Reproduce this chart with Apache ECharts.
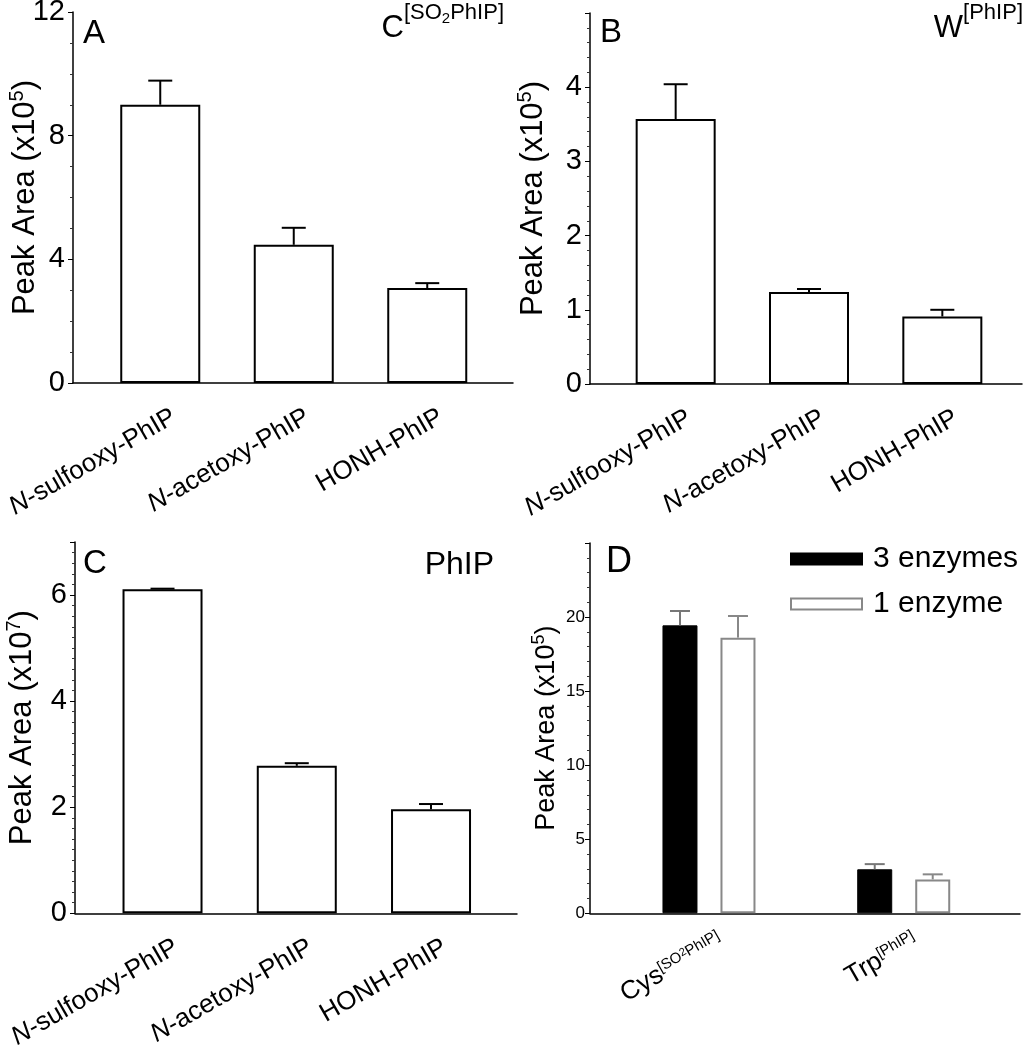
<!DOCTYPE html>
<html><head><meta charset="utf-8">
<script src="https://cdn.jsdelivr.net/npm/echarts@6/dist/echarts.min.js"></script>
<style>html,body{margin:0;padding:0;background:#fff}#c{width:1031px;height:1050px}</style>
</head><body><div id="c"></div>
<script>
// ---------- DATA ----------
const categoriesABC = ['N-sulfooxy-PhIP', 'N-acetoxy-PhIP', 'HONH-PhIP'];
const meanA = [9.0, 4.47, 3.07];
const errA  = [0.78, 0.55, 0.16];
const meanB = [3.57, 1.24, 0.91];
const errB  = [0.47, 0.04, 0.09];
const meanC = [6.11, 2.78, 1.96];
const errC  = [0.01, 0.05, 0.10];
const categoriesD = ['Cys^[SO2PhIP]', 'Trp^[PhIP]'];
const seriesNamesD = ['3 enzymes', '1 enzyme'];
const mean3 = [19.44, 2.97];
const err3  = [0.97, 0.35];
const mean1 = [18.61, 2.29];
const err1  = [1.46, 0.34];
const yTicksA = {min: 0, max: 12, interval: 4};
const yTicksB = {min: 0, max: 5, interval: 1};
const yTicksC = {min: 0, max: 7, interval: 2};
const yTicksD = {min: 0, max: 25, interval: 5};

// ---------- STYLE ----------
const FONT = '"Liberation Sans", Arial, Helvetica, sans-serif';
const panels = [
  {frame: {left: 73, top: 12, width: 440, height: 371}, data: {left: 93.5, width: 400.5}, ticks: yTicksA, minor: 4, nameGap: 30, showMax: true},
  {frame: {left: 590, top: 13, width: 432, height: 371}, data: {left: 609, width: 400}, ticks: yTicksB, minor: 5, nameGap: 39, showMax: false},
  {frame: {left: 75, top: 542, width: 442, height: 371.3}, data: {left: 95.4, width: 402.75}, ticks: yTicksC, minor: 10, nameGap: 35, showMax: false},
  {frame: {left: 590, top: 543, width: 430, height: 370.3}, data: {left: 611.6, width: 389.5}, ticks: yTicksD, minor: 5, nameGap: 26, showMax: false}
];

const grids = [], xAxes = [], yAxes = [], series = [];

panels.forEach((p, i) => {
  const isD = i === 3;
  grids.push(Object.assign({outerBoundsMode: 'none', containLabel: false}, p.frame));
  grids.push({outerBoundsMode: 'none', containLabel: false, left: p.data.left, width: p.data.width, top: p.frame.top, height: p.frame.height});
  const fg = i * 2, dg = i * 2 + 1;
  // frame axes
  xAxes.push({type: 'value', gridIndex: fg, min: 0, max: 1,
    axisLine: {show: true, lineStyle: {color: '#000', width: 1.5}},
    axisTick: {show: false}, axisLabel: {show: false}, splitLine: {show: false}});
  yAxes.push({type: 'value', gridIndex: fg, min: p.ticks.min, max: p.ticks.max, interval: p.ticks.interval,
    axisLine: {show: true, lineStyle: {color: '#000', width: 1.5}},
    axisTick: {show: true, length: 5, lineStyle: {color: '#000', width: 1}},
    minorTick: {show: true, splitNumber: p.minor, length: 3, lineStyle: {color: '#333', width: 1}},
    splitLine: {show: false}, minorSplitLine: {show: false},
    axisLabel: {show: true, color: '#000', fontFamily: FONT, fontSize: isD ? 17 : 29, margin: isD ? 5 : 8,
      showMaxLabel: p.showMax},
    name: 'Peak Area (x10{sup|' + (i === 2 ? '7' : '5') + '})',
    nameLocation: 'middle', nameGap: p.nameGap, nameMoveOverlap: false,
    nameTextStyle: {color: '#000', fontFamily: FONT, fontSize: isD ? 27 : 31, lineHeight: isD ? 34 : 36,
      rich: {sup: {fontFamily: FONT, fontSize: isD ? 18 : 20, lineHeight: 22, verticalAlign: 'top', color: '#000'}}}
  });
  // data axes
  const cats = isD ? categoriesD : categoriesABC;
  xAxes.push({type: 'category', gridIndex: dg, data: cats,
    axisLine: {show: false}, axisTick: {show: false}, splitLine: {show: false},
    axisLabel: {show: true, interval: 0, rotate: 30, margin: isD ? 35 : 40, padding: [0, isD ? -15 : -16, 0, 0],
      color: '#000', fontFamily: FONT, fontSize: isD ? 26 : 26,
      formatter: isD ? (v => {
        const parts = v.split('^');
        const sup = parts[1].replace(/(\d)/g, '}{u|$1}{s|');
        return '{b|' + parts[0] + '}{s|' + sup + '}';
      }) : (v => v.startsWith('N-') ? '{i|N}{r|' + v.slice(1) + '}' : '{r|' + v + '}'),
      rich: isD ? {
        b: {fontFamily: FONT, fontSize: 26, lineHeight: 30, verticalAlign: 'top', color: '#000'},
        s: {fontFamily: FONT, fontSize: 15, lineHeight: 16, verticalAlign: 'top', color: '#000'},
        u: {fontFamily: FONT, fontSize: 11, lineHeight: 22, verticalAlign: 'top', color: '#000'}
      } : {
        i: {fontFamily: FONT, fontSize: 26, fontStyle: 'italic', color: '#000'},
        r: {fontFamily: FONT, fontSize: 26, fontStyle: 'normal', color: '#000'}
      }
    }});
  yAxes.push({type: 'value', gridIndex: dg, min: p.ticks.min, max: p.ticks.max, interval: p.ticks.interval, show: false});
});

function errRender(offsetPx, capHalf, color) {
  return function (params, api) {
    const c = api.value(0), m = api.value(1), e = api.value(2);
    const p0 = api.coord([c, m]);
    const p1 = api.coord([c, m + e]);
    const x = p0[0] + offsetPx;
    return {type: 'group', children: [
      {type: 'line', shape: {x1: x, y1: p0[1], x2: x, y2: p1[1]}, style: {stroke: color, lineWidth: 2}},
      {type: 'line', shape: {x1: x - capHalf, y1: p1[1], x2: x + capHalf, y2: p1[1]}, style: {stroke: color, lineWidth: 2}}
    ]};
  };
}

[[meanA, errA], [meanB, errB], [meanC, errC]].forEach((d, i) => {
  const ax = i * 2 + 1;
  series.push({type: 'bar', xAxisIndex: ax, yAxisIndex: ax, data: d[0], barWidth: 80,
    itemStyle: {color: '#fff', borderColor: '#000', borderWidth: 2}, silent: true});
  series.push({type: 'custom', xAxisIndex: ax, yAxisIndex: ax, z: 5,
    data: categoriesABC.map((c, k) => [k, d[0][k], d[1][k]]),
    renderItem: errRender(0, 12, '#000')});
});

const BAR_W_D = 35, GAP_D = 23;
series.push({type: 'bar', name: seriesNamesD[0], xAxisIndex: 7, yAxisIndex: 7, data: mean3, barWidth: BAR_W_D,
  barGap: (GAP_D / BAR_W_D * 100) + '%', itemStyle: {color: '#000', borderColor: '#000', borderWidth: 1}});
series.push({type: 'bar', name: seriesNamesD[1], xAxisIndex: 7, yAxisIndex: 7, data: mean1, barWidth: BAR_W_D,
  barGap: (GAP_D / BAR_W_D * 100) + '%', itemStyle: {color: '#fff', borderColor: '#888', borderWidth: 2}});
const offD = (BAR_W_D + GAP_D) / 2;
series.push({type: 'custom', xAxisIndex: 7, yAxisIndex: 7, z: 5,
  data: categoriesD.map((c, k) => [k, mean3[k], err3[k]]), renderItem: errRender(-offD, 10, '#777')});
series.push({type: 'custom', xAxisIndex: 7, yAxisIndex: 7, z: 5,
  data: categoriesD.map((c, k) => [k, mean1[k], err1[k]]), renderItem: errRender(offD, 10, '#888')});

function label(text, x, y, size, align) {
  return {type: 'text', x: x, y: y, silent: true,
    style: {text: text, fill: '#000', font: size + 'px ' + FONT, align: align || 'left', verticalAlign: 'top'}};
}
function richLabel(text, x, y) {
  return {type: 'text', x: x, y: y, silent: true,
    style: {text: text, align: 'right', verticalAlign: 'top', fill: '#000', font: '30px ' + FONT,
      rich: {
        b: {fontFamily: FONT, fontSize: 31, verticalAlign: 'top', padding: [11, 0, 0, 0], fill: '#000'},
        s: {fontFamily: FONT, fontSize: 22, verticalAlign: 'top', fill: '#000'},
        u: {fontFamily: FONT, fontSize: 15, verticalAlign: 'top', padding: [9, 0, 0, 0], fill: '#000'}
      }}};
}

const option = {
  animation: false,
  backgroundColor: '#fff',
  textStyle: {fontFamily: FONT},
  grid: grids, xAxis: xAxes, yAxis: yAxes, series: series,
  legend: {data: seriesNamesD, orient: 'vertical', left: 790, top: 544, itemWidth: 71, itemHeight: 11,
    itemGap: 15, selectedMode: false, padding: 0, icon: 'rect',
    textStyle: {color: '#000', fontSize: 30, fontFamily: FONT, padding: [0, 0, 0, 6]}},
  graphic: [
    label('A', 83, 17, 33),
    richLabel('{b|C}{s|[SO}{u|2}{s|PhIP]}', 504, 2),
    label('B', 600, 16, 33),
    richLabel('{b|W}{s|[PhIP]}', 1023, 2),
    label('C', 83, 547, 33),
    label('PhIP', 494, 549, 32, 'right'),
    label('D', 606, 544, 36)
  ]
};
echarts.init(document.getElementById('c')).setOption(option);
</script></body></html>
